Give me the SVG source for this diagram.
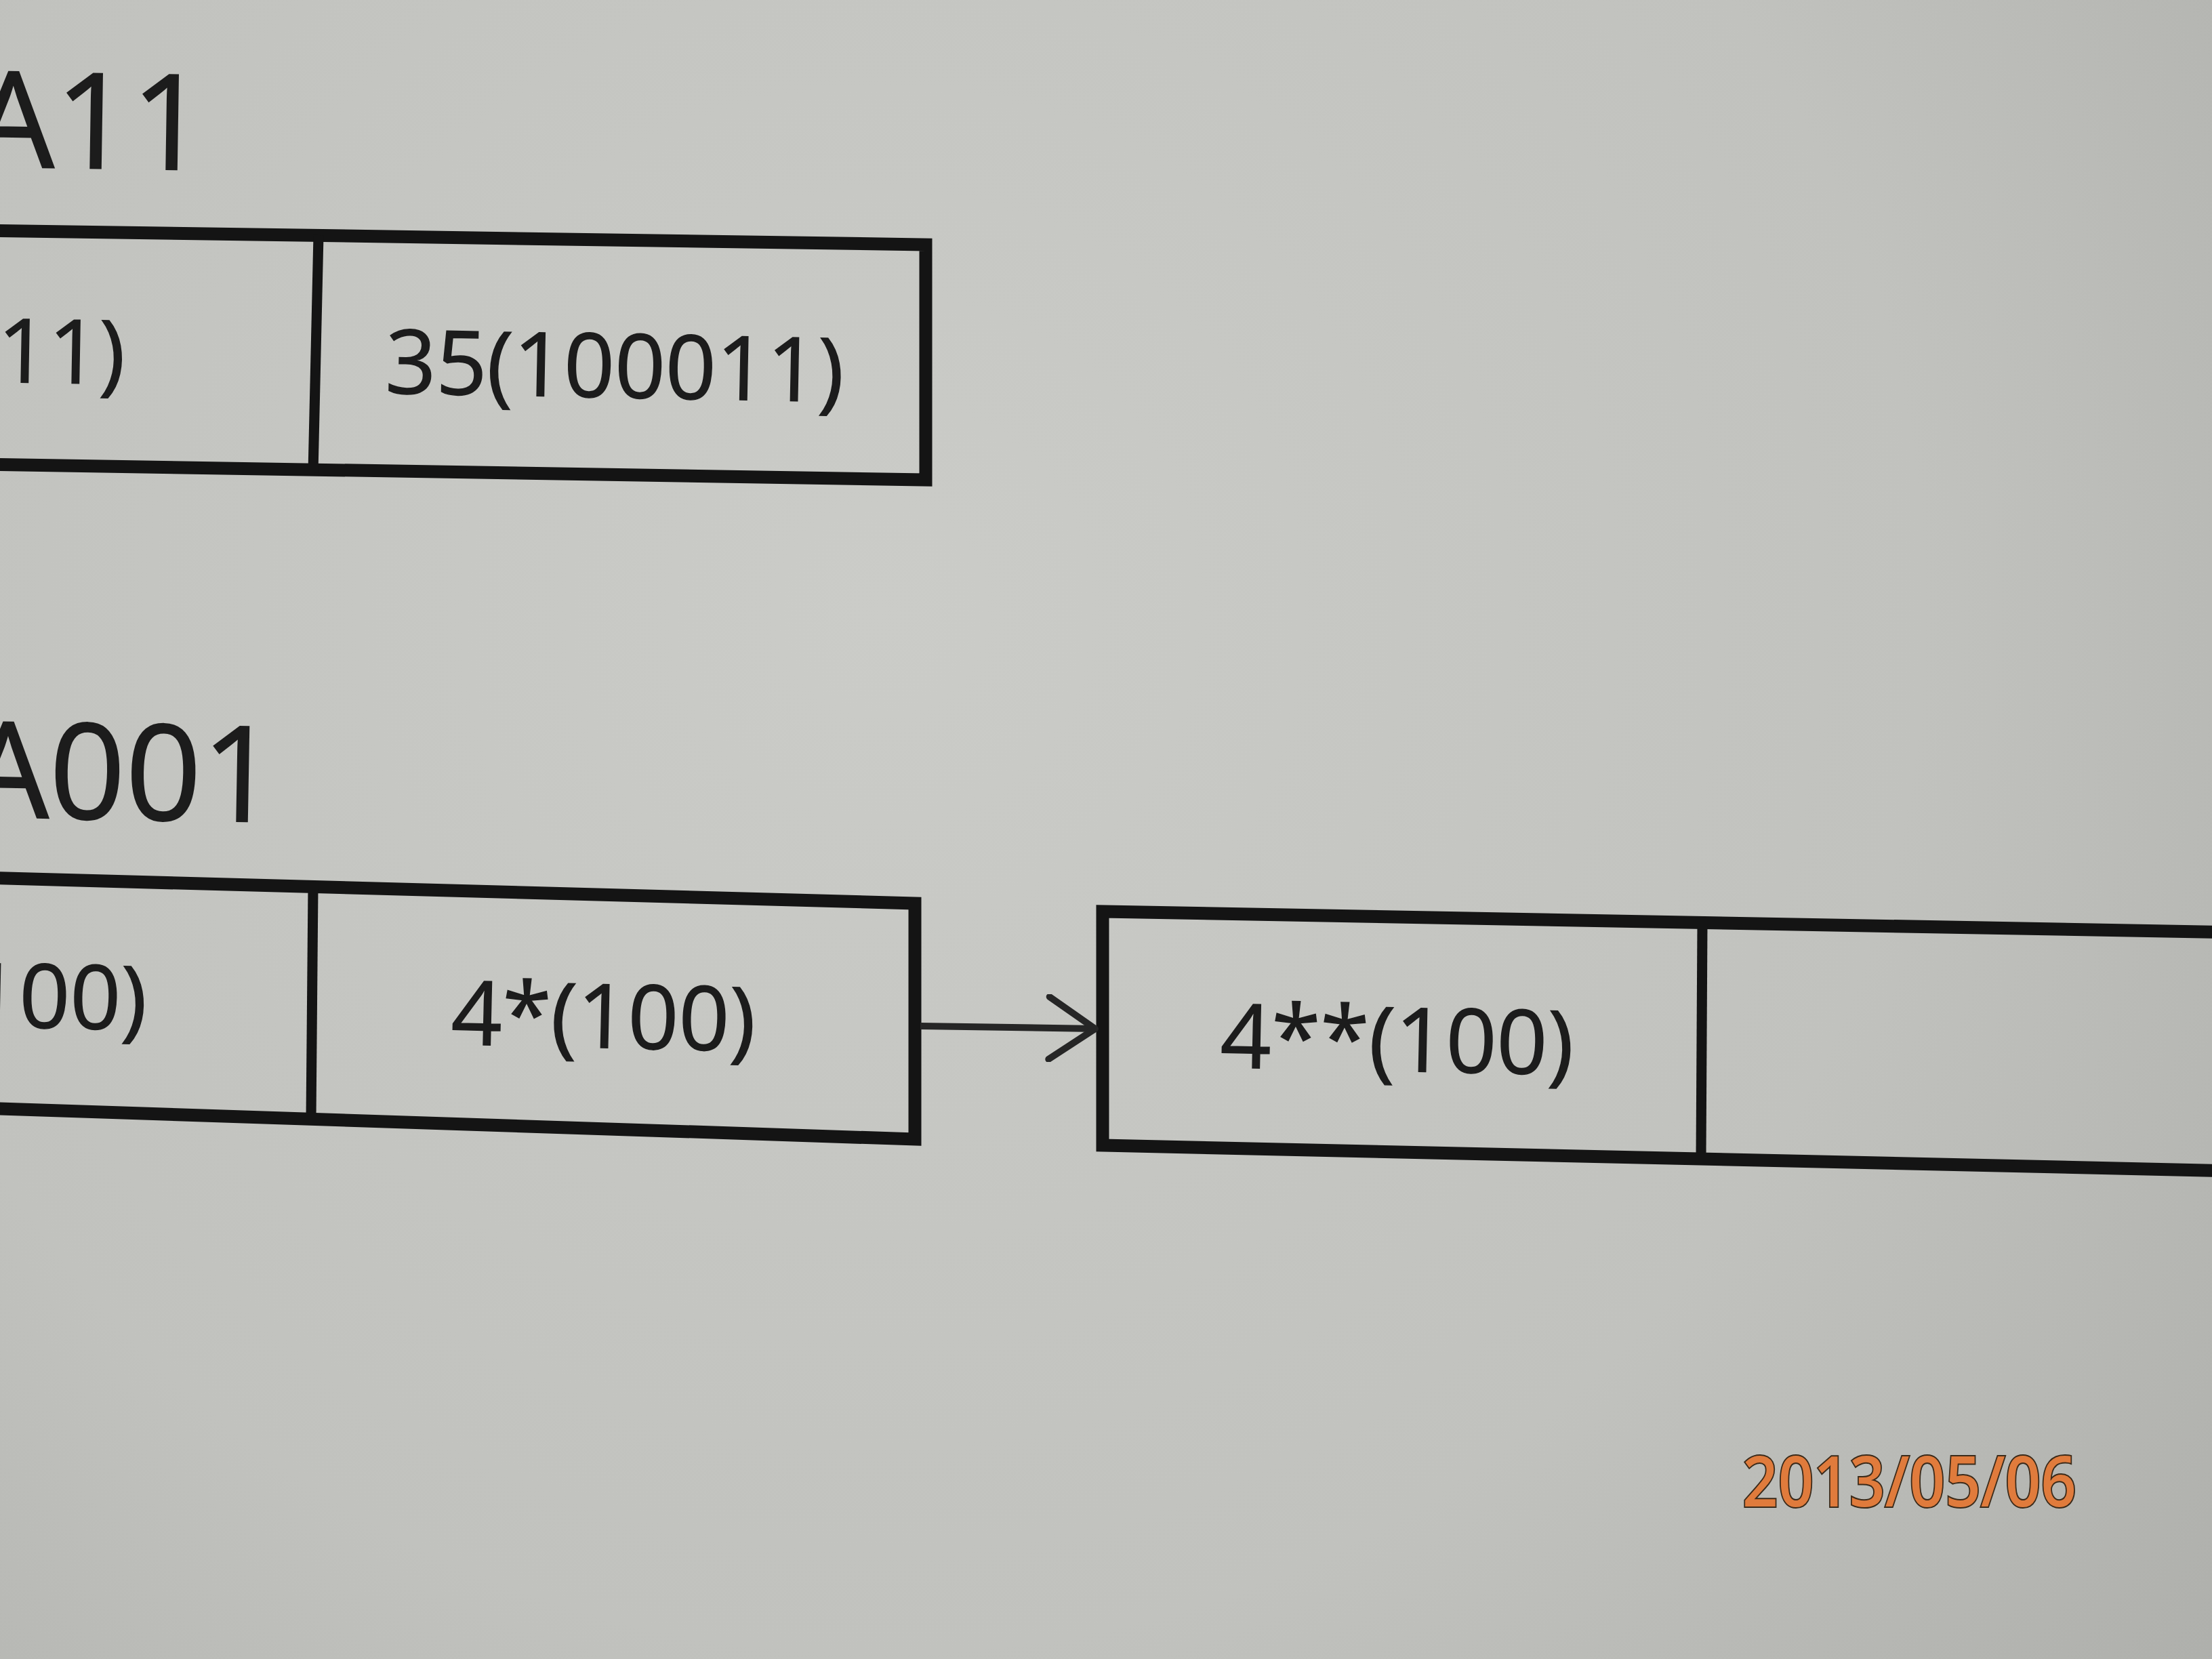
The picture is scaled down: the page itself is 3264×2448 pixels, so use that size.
<svg xmlns="http://www.w3.org/2000/svg" width="3264" height="2448" viewBox="0 0 3264 2448">
  <defs>
    <radialGradient id="paper" cx="1300" cy="900" r="2800" gradientUnits="userSpaceOnUse">
      <stop offset="0" stop-color="#cbccc8"/>
      <stop offset="0.55" stop-color="#c1c2be"/>
      <stop offset="1" stop-color="#a9aaa6"/>
    </radialGradient>
    <marker id="arrow" viewBox="0 0 80 100" refX="74" refY="50" markerWidth="80" markerHeight="100" markerUnits="userSpaceOnUse" orient="auto">
      <path d="M6,4 L74,50 L6,96" fill="none" stroke="#262626" stroke-width="10" stroke-linecap="round" stroke-linejoin="round"/>
    </marker>
    <style>
      .box { fill: none; stroke: #141414; stroke-width: 19; stroke-linejoin: miter; }
      .div { fill: none; stroke: #141414; stroke-width: 15; }
      .cell { font-family: "Open Sans", "Liberation Sans", sans-serif; font-size: 131px; fill: #1c1c1c; stroke: #1c1c1c; stroke-width: 1.5; }
      .label { font-family: "Open Sans", "Liberation Sans", sans-serif; font-size: 196px; fill: #1c1c1c; stroke: #1c1c1c; stroke-width: 2; }
      .conn { fill: none; stroke: #262626; stroke-width: 10; }
      .stamp { font-family: "Open Sans", "DejaVu Sans", sans-serif; font-size: 104px; font-weight: 600; fill: #e07b3c; stroke: #3a2a1a; stroke-width: 4; paint-order: stroke; }
    </style>
  </defs>

  <rect x="0" y="0" width="3264" height="2448" fill="url(#paper)"/>

  <g id="label-A11">
    <text class="label" x="304" y="251" text-anchor="end" transform="rotate(0.9 304 251)">A11</text>
  </g>

  <g id="node-top">
    <path class="box" d="M-30,340 L1366,361 L1366,708 L-30,685"/>
    <line class="div" x1="470" y1="347" x2="462" y2="697"/>
    <text class="cell" x="184" y="567" text-anchor="end" transform="rotate(1 184 567)">11)</text>
    <text class="cell" x="568" y="580" transform="rotate(1.1 568 580)">35(100011)</text>
  </g>

  <g id="label-A001">
    <text class="label" x="408" y="1213" text-anchor="end" transform="rotate(1 408 1213)">A001</text>
  </g>

  <g id="node-bottom-left">
    <path class="box" d="M-30,1295 L1350,1333 L1350,1681 L-30,1635"/>
    <line class="div" x1="462" y1="1309" x2="459" y2="1651"/>
    <text class="cell" x="216" y="1520" text-anchor="end" transform="rotate(1.2 216 1520)">100)</text>
    <text class="cell" x="665" y="1541" transform="rotate(1.3 665 1541)">4*(100)</text>
  </g>

  <g id="node-bottom-right">
    <path class="box" d="M3300,1376 L1627,1345 L1627,1690 L3300,1728"/>
    <line class="div" x1="2512" y1="1362" x2="2510" y2="1708"/>
    <text class="cell" x="1800" y="1575" transform="rotate(1.2 1800 1575)">4**(100)</text>
  </g>

  <g id="connectors">
    <line class="conn" x1="1358" y1="1514" x2="1616" y2="1518" marker-end="url(#arrow)"/>
  </g>

  <g id="date-stamp">
    <text class="stamp" x="2571" y="2223" textLength="493" lengthAdjust="spacingAndGlyphs">2013/05/06</text>
  </g>
</svg>
